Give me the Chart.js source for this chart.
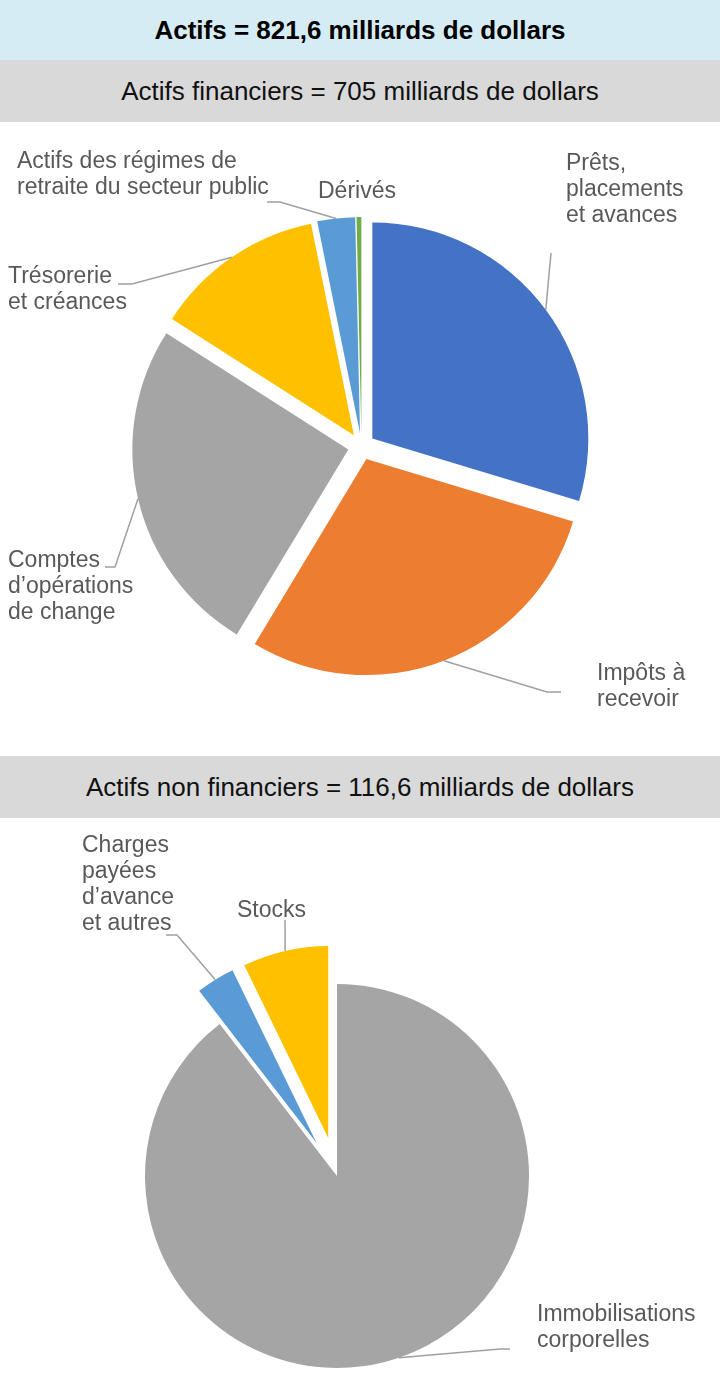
<!DOCTYPE html>
<html lang="fr">
<head>
<meta charset="utf-8">
<title>Actifs</title>
<script src="https://cdn.jsdelivr.net/npm/chart.js@4.4.0/dist/chart.umd.min.js"></script>
<style>
  html, body { margin: 0; padding: 0; background: #fff; }
  body { width: 720px; font-family: "Liberation Sans", Arial, sans-serif; }
  .bar { display: flex; align-items: center; justify-content: center; color: #111; font-size: 26px; }
  .bar.top { height: 60px; background: #d6ecf4; font-weight: bold; color: #000; }
  .bar.sub { height: 62px; background: #d9d9d9; }
  .pie { position: relative; width: 720px; }
</style>
</head>
<body>
<div class="bar top" id="titreTotal"></div>
<div class="bar sub" id="titreFin"></div>
<div class="pie" style="height:634px"><canvas id="pieFin"></canvas></div>
<div class="bar sub" id="titreNonFin"></div>
<div class="pie" style="height:568px"><canvas id="pieNonFin"></canvas></div>

<script>
// titres
const titreTotal = 'Actifs = 821,6 milliards de dollars';
const titreFin = 'Actifs financiers = 705 milliards de dollars';
const titreNonFin = 'Actifs non financiers = 116,6 milliards de dollars';

// actifs financiers (milliards $)
const finLabels = ['Prêts, placements et avances', 'Impôts à recevoir', 'Comptes d’opérations de change',
    'Trésorerie et créances', 'Actifs des régimes de retraite du secteur public', 'Dérivés'];
const finLignes = [['Prêts,', 'placements', 'et avances'], ['Impôts à', 'recevoir'],
    ['Comptes', 'd’opérations', 'de change'], ['Trésorerie', 'et créances'],
    ['Actifs des régimes de', 'retraite du secteur public'], ['Dérivés']];
const finValeurs = [209.2, 204.2, 179.2, 90.0, 19.9, 2.5];
const finCouleurs = ['#4472c4', '#ed7d31', '#a5a5a5', '#ffc000', '#5b9bd5', '#70ad47'];

// actifs non financiers (milliards $)
const nonFinLabels = ['Immobilisations corporelles', 'Charges payées d’avance et autres', 'Stocks'];
const nonFinLignes = [['Immobilisations', 'corporelles'], ['Charges', 'payées', 'd’avance', 'et autres'], ['Stocks']];
const nonFinValeurs = [104.4, 3.8, 8.4];
const nonFinCouleurs = ['#a5a5a5', '#5b9bd5', '#ffc000'];

document.getElementById('titreTotal').textContent = titreTotal;
document.getElementById('titreFin').textContent = titreFin;
document.getElementById('titreNonFin').textContent = titreNonFin;

// pointes détachées (comme un secteur éclaté d'Excel)
const explodePlugin = {
    id: 'explode',
    afterDatasetsUpdate(chart, args, opts) {
        const meta = chart.getDatasetMeta(0);
        meta.data.forEach((arc, i) => {
            const d = opts.distances[i] || 0;
            const mid = (arc.startAngle + arc.endAngle) / 2;
            arc.x += Math.cos(mid) * d;
            arc.y += Math.sin(mid) * d;
        });
    }
};

// étiquettes + lignes de rappel
const labelPlugin = {
    id: 'etiquettes',
    afterDatasetsDraw(chart, args, opts) {
        const ctx = chart.ctx;
        const meta = chart.getDatasetMeta(0);
        ctx.save();
        meta.data.forEach((arc, i) => {
            const p = opts.places[i];
            if (!p) return;
            if (p.leader) {
                const mid = (arc.startAngle + arc.endAngle) / 2;
                const ax = arc.x + Math.cos(mid) * arc.outerRadius;
                const ay = arc.y + Math.sin(mid) * arc.outerRadius;
                ctx.beginPath();
                ctx.moveTo(ax, ay);
                p.leader.forEach(pt => ctx.lineTo(pt[0], pt[1]));
                ctx.strokeStyle = '#a0a0a0';
                ctx.lineWidth = 1.5;
                ctx.stroke();
            }
            ctx.fillStyle = '#595959';
            ctx.font = '23px "Liberation Sans", Arial, sans-serif';
            ctx.textAlign = 'left';
            ctx.textBaseline = 'alphabetic';
            opts.lignes[i].forEach((t, k) => ctx.fillText(t, p.x, p.y + k * 26));
        });
        ctx.restore();
    }
};

function creerPie(id, labels, valeurs, couleurs, rayon, padding, distances, lignes, places) {
    return new Chart(document.getElementById(id), {
        type: 'pie',
        data: {
            labels: labels,
            datasets: [{ data: valeurs, backgroundColor: couleurs, borderWidth: 0 }]
        },
        options: {
            responsive: true,
            maintainAspectRatio: false,
            animation: false,
            events: [],
            radius: rayon,
            layout: { padding: padding },
            plugins: {
                legend: { display: false },
                tooltip: { enabled: false },
                explode: { distances: distances },
                etiquettes: { lignes: lignes, places: places }
            }
        },
        plugins: [explodePlugin, labelPlugin]
    });
}

creerPie('pieFin', finLabels, finValeurs, finCouleurs, 216,
    { top: 15, bottom: 0, left: 3, right: 0 },
    [13.5, 13.5, 13.5, 13.5, 13.5, 13.5],
    finLignes,
    [
        { x: 566, y: 48, leader: [[551, 131]] },
        { x: 597, y: 558, leader: [[547, 570], [561, 570]] },
        { x: 8, y: 445, leader: [[115, 445], [105, 445]] },
        { x: 8, y: 161, leader: [[132, 162], [118, 162]] },
        { x: 17, y: 46, leader: [[280, 80], [267, 80]] },
        { x: 318, y: 76, leader: null }
    ]);

creerPie('pieNonFin', nonFinLabels, nonFinValeurs, nonFinCouleurs, 192,
    { top: 148, bottom: 0, left: 0, right: 46 },
    [0, 39, 39],
    nonFinLignes,
    [
        { x: 537, y: 503, leader: [[500, 531], [510, 531]] },
        { x: 82, y: 34, leader: [[177, 117], [166, 117]] },
        { x: 237, y: 99, leader: [[285, 102]] }
    ]);
</script>
</body>
</html>
